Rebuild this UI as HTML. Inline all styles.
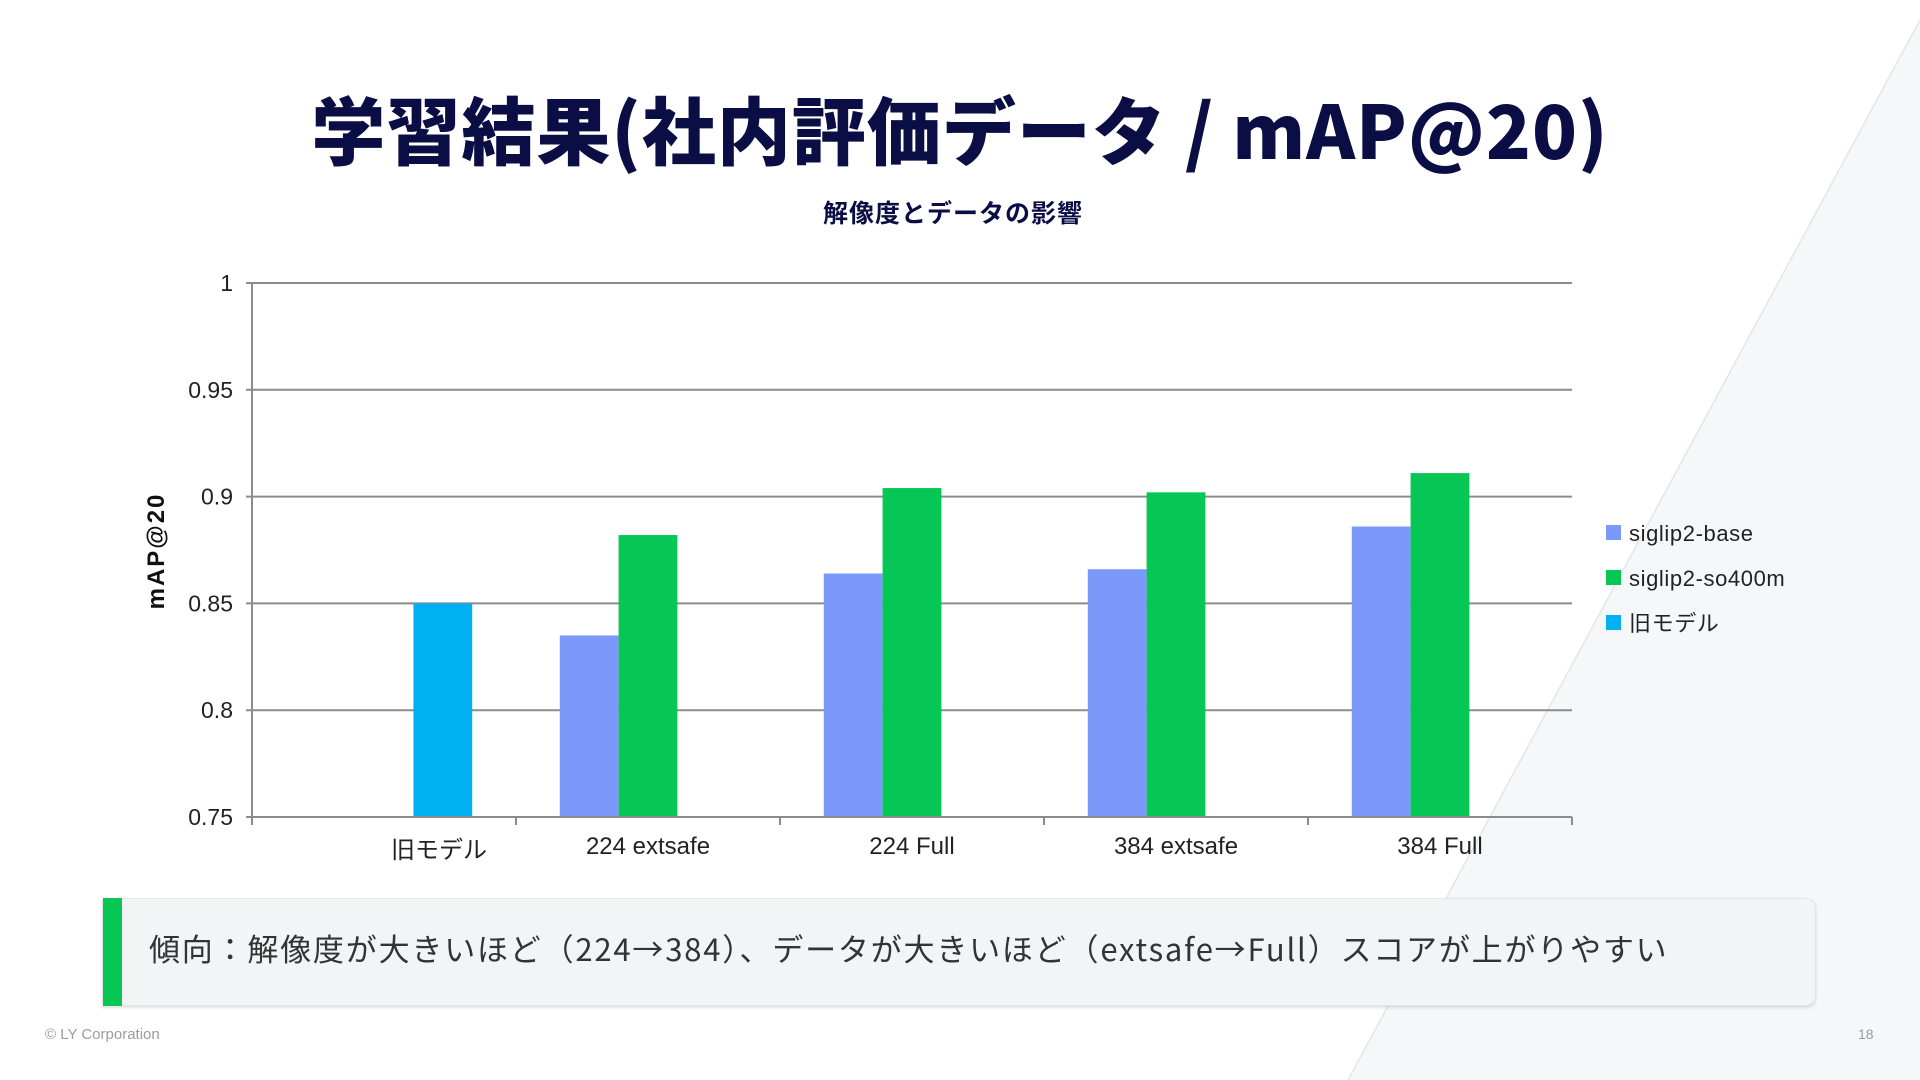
<!DOCTYPE html>
<html><head><meta charset="utf-8"><style>
html,body{margin:0;padding:0;}
body{width:1920px;height:1080px;position:relative;overflow:hidden;background:#fff;font-family:"Liberation Sans","Noto Sans CJK JP",sans-serif;}
.abs{position:absolute;}
</style></head><body>
<svg class="abs" style="left:0;top:0" width="1920" height="1080">
<polygon points="1920,20 1920,1080 1348,1080" fill="#f6f7f9"/>
<line x1="1920" y1="20" x2="1348" y2="1080" stroke="#e3e5ea" stroke-width="1.5"/>
</svg>
<div class="abs" style="left:0;width:1920px;top:78px;text-align:center;font-family:'Noto Sans CJK JP',sans-serif;font-weight:900;font-size:74px;color:#0b0d45;letter-spacing:1px;line-height:100px;">学習結果(社内評価データ / mAP@20)</div>
<div class="abs" style="left:0;width:1906px;top:194px;text-align:center;font-family:'Noto Sans CJK JP',sans-serif;font-weight:700;font-size:25px;letter-spacing:1px;color:#0b0d45;">解像度とデータの影響</div>
<svg id="chart" class="abs" style="left:0;top:0" width="1920" height="1080"></svg>
<div class="abs" style="left:102px;top:898px;width:1714px;height:108px;background:#f3f4f6;border-radius:0 10px 10px 0;box-shadow:0 2px 3px rgba(0,0,0,0.12);border:1px solid #e2e4e8;box-sizing:border-box;">
<div style="position:absolute;left:0;top:-1px;width:19px;height:108px;background:#06c755;"></div>
<div style="position:absolute;left:46px;top:-3px;line-height:104px;font-size:31px;letter-spacing:1.8px;color:#333;font-family:'Noto Sans CJK JP',sans-serif;">傾向：解像度が大きいほど（224→384）、データが大きいほど（extsafe→Full）スコアが上がりやすい</div>
</div>
<div class="abs" style="left:45px;top:1026px;font-size:15px;color:#9a9ca3;">© LY Corporation</div>
<div class="abs" style="left:1858px;top:1026px;font-size:14px;color:#9a9ca3;">18</div>
<script>
const categories=["旧モデル","224 extsafe","224 Full","384 extsafe","384 Full"];
const seriesNames=["siglip2-base","siglip2-so400m","旧モデル"];
const baseValues=[null,0.835,0.864,0.866,0.886];
const so400mValues=[null,0.882,0.904,0.902,0.911];
const oldValues=[0.85,null,null,null,null];
const yTicks=[0.75,0.8,0.85,0.9,0.95,1];
const yTickLabels=["0.75","0.8","0.85","0.9","0.95","1"];
const colors=["#7b99fb","#06c755","#00b0f0"];
const NS="http://www.w3.org/2000/svg";
const svg=document.getElementById('chart');
const X0=252,X1=1572,Y0=817,Y1=283,YMIN=0.75,YMAX=1;
const catW=(X1-X0)/categories.length,barW=58.8;
function y(v){return Y0-(v-YMIN)/(YMAX-YMIN)*(Y0-Y1);}
function xc(i){return X0+catW*(i+0.5);}
function mk(t,a){const e=document.createElementNS(NS,t);for(const k in a)e.setAttribute(k,a[k]);svg.appendChild(e);return e;}
yTicks.forEach((v,i)=>{
 const g=mk('line',{x1:X0-6,x2:X1,y1:y(v),y2:y(v),stroke:'#8c8c8c','stroke-width':2});
 
 
 const t=mk('text',{x:233,y:y(v)+8,'text-anchor':'end','font-size':23,fill:'#222'});
 t.textContent=yTickLabels[i];
 
 
});
const ax=mk('line',{x1:X0,x2:X0,y1:Y1,y2:Y0+7,stroke:'#8c8c8c','stroke-width':2});


for(let i=0;i<=categories.length;i++){
 const tk=mk('line',{x1:X0+catW*i,x2:X0+catW*i,y1:Y0,y2:Y0+8,stroke:'#8c8c8c','stroke-width':2});
 
 
}
const series=[baseValues,so400mValues,oldValues];
series.forEach((vals,s)=>{
 vals.forEach((v,i)=>{
  if(v==null)return;
  const x=xc(i)-barW*1.5+barW*s;
  const r=mk('rect',{x:x,y:y(v),width:barW,height:Y0-y(v)-1,fill:colors[s]});
  
  
 });
});
categories.forEach((c,i)=>{
 const t=mk('text',{x:xc(i)+(i===0?55:0),y:i===0?858:854,'text-anchor':'middle','font-size':24,fill:'#222','font-family':"Liberation Sans, Noto Sans CJK JP, sans-serif"});
 t.textContent=c;
 
 
});
const yt=mk('text',{x:0,y:0,'text-anchor':'middle','font-size':24,'font-weight':'bold','letter-spacing':2,fill:'#111',transform:'translate(164,551) rotate(-90)'});
yt.textContent='mAP@20';


seriesNames.forEach((n,s)=>{
 const cy=533+s*45;
 const sq=mk('rect',{x:1606,y:cy-8,width:15,height:15,fill:colors[s]});
 
 
 const t=mk('text',{x:1629,y:cy+8,'font-size':22,'letter-spacing':0.6,fill:'#222','font-family':"Liberation Sans, Noto Sans CJK JP, sans-serif"});
 t.textContent=n;
 
 
});
</script>
</body></html>
